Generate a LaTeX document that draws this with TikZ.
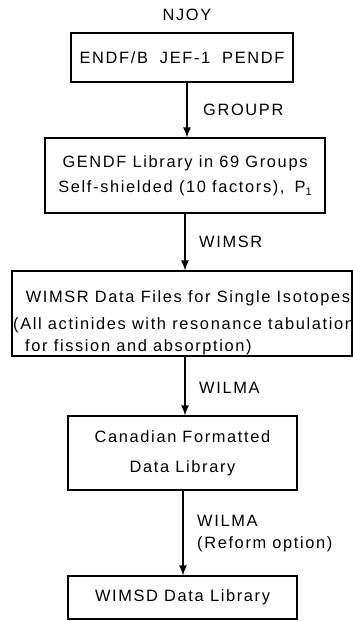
\documentclass[tikz,border=0pt]{standalone}
\usepackage{fontspec}
\setmainfont{Liberation Sans}[LetterSpace=10]
\usetikzlibrary{arrows.meta}
\begin{document}
\begin{tikzpicture}[x=1pt,y=-1pt,
  every node/.style={font=\fontsize{16.4}{25}\selectfont, inner sep=0pt},
  box/.style={draw, line width=1.2pt, minimum width=#1, align=center},
  lbl/.style={anchor=west, align=left},
  arr/.style={line width=1.2pt, -{Latex[length=10pt,width=8pt]}}]
\useasboundingbox (0,0) rectangle (353,621);

\node (njoy) at (187,15) {NJOY};

\node[box=222pt, minimum height=49pt] (b1) at (182,57.5)
  {ENDF/B\hspace{12pt}JEF-1\hspace{12pt}PENDF};

\node[box=280pt, minimum height=75pt] (b2) at (185,175.5)
  {GENDF Library in 69 Groups\\Self-shielded (10 factors),\hspace{10pt}P\raisebox{-3pt}{\fontsize{11}{11}\selectfont 1}};

\node[draw, line width=1.2pt, minimum width=340pt, minimum height=85pt] (b3) at (182,313.5) {};
\node (t3a) at (188,298) {WIMSR Data Files for Single Isotopes};
\node[anchor=west] (t3b) at (13,325) {(All actinides with resonance tabulation};
\node[anchor=west] (t3c) at (25,347) {for fission and absorption)};

\node[box=229pt, minimum height=74pt, font=\fontsize{16.4}{30}\selectfont] (b4) at (182.5,453)
  {Canadian\hspace{6pt}Formatted\\Data Library};

\node[box=229pt, minimum height=43pt] (b5) at (182.5,597.5) {WIMSD Data Library};

\coordinate (x1) at (187,0);
\coordinate (x2) at (185,0);
\coordinate (x3) at (185,0);
\coordinate (x4) at (183,0);

\draw[arr] (b1.south -| x1) -- (b2.north -| x1);
\draw[arr] (b2.south -| x2) -- (b3.north -| x2);
\draw[arr] (b3.south -| x3) -- (b4.north -| x3);
\draw[arr] (b4.south -| x4) -- (b5.north -| x4);

\node[lbl] (l1) at (203,110) {GROUPR};
\node[lbl] (l2) at (199,242) {WIMSR};
\node[lbl] (l3) at (199,388) {WILMA};
\node[lbl, font=\fontsize{16.4}{22}\selectfont] (l4) at (197,534) {WILMA\\(Reform option)};
\end{tikzpicture}
\end{document}
